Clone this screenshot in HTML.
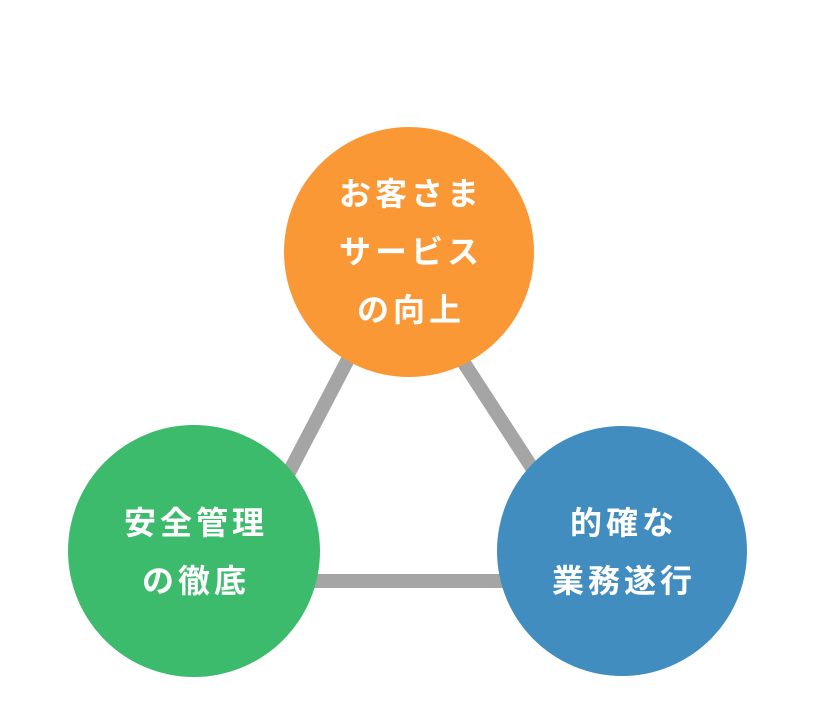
<!DOCTYPE html>
<html><head><meta charset="utf-8"><style>
html,body{margin:0;padding:0;background:#fff;}
body{width:833px;height:714px;position:relative;overflow:hidden;font-family:"Liberation Sans","Noto Sans CJK JP",sans-serif;}
</style></head><body>
<svg width="833" height="714" style="position:absolute;left:0;top:0">
<g stroke="#a5a5a5" stroke-width="14" stroke-linecap="butt">
<line x1="404" y1="252" x2="248" y2="551"/>
<line x1="392" y1="252" x2="586" y2="551"/>
<line x1="194" y1="581" x2="622" y2="581"/>
</g>
<circle cx="409" cy="252" r="125" fill="#f99835"/>
<circle cx="194" cy="551" r="126" fill="#3dbb6c"/>
<circle cx="622" cy="551" r="125" fill="#428dc0"/>
<g fill="#fff" font-family="Liberation Sans, Noto Sans CJK JP, sans-serif" font-weight="bold" font-size="32" text-anchor="middle" letter-spacing="4">
<text x="411" y="205">お客さま</text>
<text x="411" y="263">サービス</text>
<text x="411" y="321">の向上</text>
<text x="196" y="534">安全管理</text>
<text x="196" y="592">の徹底</text>
<text x="624" y="534">的確な</text>
<text x="624" y="592">業務遂行</text>
</g>
</svg>
</body></html>
